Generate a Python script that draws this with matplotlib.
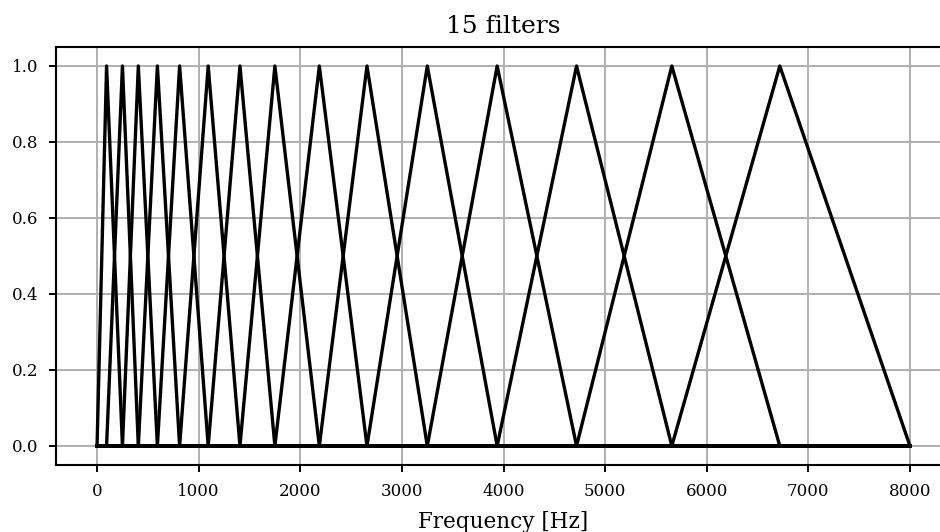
import numpy as np
import matplotlib
matplotlib.use('Agg')
import matplotlib.pyplot as plt

# band edges of the 15 triangular filters (Hz)
edges = [0, 93.75, 250, 406.25, 593.75, 812.5, 1093.75, 1406.25, 1750,
         2187.5, 2656.25, 3250, 3937.5, 4718.75, 5656.25, 6718.75, 8000]
f_max = 8000
n_filters = len(edges) - 2

plt.rcParams['font.family'] = 'DejaVu Serif'

fig = plt.figure(figsize=(9.4, 5.32), dpi=100)
ax = fig.add_axes([0.06, 0.126, 0.9513, 0.7857])

for i in range(n_filters):
    lo, mid, hi = edges[i], edges[i + 1], edges[i + 2]
    ax.plot([0, lo, mid, hi, f_max], [0, 0, 1, 0, 0], color='black', linewidth=2.4)

ax.set_xticks(np.arange(0, 8001, 1000))
ax.set_yticks([0.0, 0.2, 0.4, 0.6, 0.8, 1.0])
ax.grid(True, color='#b0b0b0', linewidth=1.4)
ax.set_axisbelow(True)
ax.tick_params(labelsize=12, length=5, width=1.4, pad=8)
for s in ax.spines.values():
    s.set_linewidth(1.5)
ax.set_xlabel('Frequency [Hz]', fontsize=15.5, labelpad=8)
ax.set_title('15 filters', fontsize=18, pad=10)

fig.savefig('out.png', dpi=100)
